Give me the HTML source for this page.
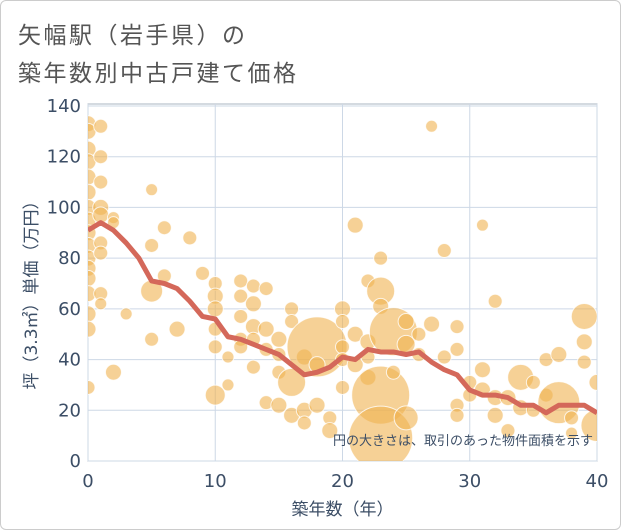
<!DOCTYPE html>
<html><head><meta charset="utf-8"><style>
body{margin:0;background:#fff;}
#wrap{position:relative;width:619px;height:528px;border:1px solid #ccc;border-radius:6px;overflow:hidden;font-family:"Liberation Sans","Noto Sans CJK JP",sans-serif;}
.title{position:absolute;left:17px;font-size:23px;color:#555;letter-spacing:2.5px;}
</style></head><body>
<div id="wrap">
<div class="title" style="top:15px">矢幅駅（岩手県）の</div>
<div class="title" style="top:53px">築年数別中古戸建て価格</div>
<svg id="chart" width="619" height="528" style="position:absolute;left:0;top:0"></svg>
</div>
<script>
const xTicks=[0,10,20,30,40];
const yTicks=[0,20,40,60,80,100,120,140];
const trendYears=[0,1,2,3,4,5,6,7,8,9,10,11,12,13,14,15,16,17,18,19,20,21,22,23,24,25,26,27,28,29,30,31,32,33,34,35,36,37,38,39,40];
const trendPrices=[91,94,91,86,80,71,70,68,63,57,56,49,48,46,44,42,38,34,35,37,41,40,44,43,43,42,43,39,36,34,28,26,26,25,22,22,19,22,22,22,19];
const bubbleYears=[0,0,0,0,0,0,0,0,0,0,0,0,0,0,0,0,0,1,1,1,1,1,1,1,1,1,2,2,2,3,5,5,5,5,6,6,7,8,9,10,10,10,10,10,10,11,11,12,12,12,12,12,13,13,13,13,13,14,14,14,14,15,15,15,15,16,16,16,16,17,17,17,18,18,18,19,19,20,20,20,20,20,21,21,21,22,22,22,22,23,23,23,23,23,24,24,25,25,25,26,26,27,27,28,28,29,29,29,29,30,30,31,31,31,32,32,32,33,33,34,34,35,35,36,36,37,37,38,38,39,39,39,40,40];
const bubblePrices=[133,130,123,118,112,106,100,95,90,85,80,76,72,66,58,52,29,132,120,110,100,97,86,82,66,62,96,94,35,58,107,85,67,48,92,73,52,88,74,70,65,60,52,45,26,41,30,71,65,57,48,45,69,62,53,48,37,68,52,44,23,48,42,35,22,60,55,31,18,41,20,15,45,38,22,17,12,60,55,45,40,29,93,50,38,71,47,41,33,80,67,61,26,9,51,35,55,46,17,50,42,132,54,83,41,53,44,22,18,31,26,93,36,28,63,25,18,12,25,33,21,31,20,40,26,42,23,17,11,57,47,39,31,14];
const bubbleRadius=[8,8,8,8,8,8,8,8,8,8,8,8,8,8,8,8,7,7,7,7,8,8,7,7,7,6,6,6,8,6,6,7,11,7,7,7,8,7,7,7,8,8,7,7,10,6,6,7,7,7,7,7,7,8,8,7,7,7,8,7,7,8,7,7,8,7,7,14,8,8,8,7,30,8,8,7,8,8,7,7,7,7,8,8,8,7,8,7,8,7,14,8,29,32,24,7,8,9,12,7,7,6,8,7,7,7,7,7,7,7,7,6,8,8,7,8,8,7,8,13,8,7,7,7,7,8,21,7,6,13,8,7,8,16];
const NS="http://www.w3.org/2000/svg";
const svg=document.getElementById('chart');
const L=87,R=596,T=105,B=460;
const xs=v=>L+(v-0)/40*(R-L);
const ys=v=>B-(v/140)*(B-T);
const FONT='DejaVu Sans, Liberation Sans, Noto Sans CJK JP, sans-serif';
function mk(tag,attrs){const e=document.createElementNS(NS,tag);for(const k in attrs)e.setAttribute(k,attrs[k]);svg.appendChild(e);return e;}
const bg=mk('rect',{x:L,y:T-2,width:R-L,height:B-T+2,fill:'#fff',stroke:'#aab4c0','stroke-width':1});


yTicks.forEach(t=>{
 const g=mk('line',{x1:L,x2:R,y1:ys(t),y2:ys(t),stroke:'#cdd8e6','stroke-width':1});
 
 
 const tx=mk('text',{x:80,y:ys(t)+6,'text-anchor':'end','font-size':18,fill:'#3c4e66','font-family':FONT});
 tx.textContent=t;
 
 
});
xTicks.forEach(t=>{
 const g=mk('line',{x1:xs(t),x2:xs(t),y1:T-2,y2:B,stroke:'#cdd8e6','stroke-width':1});
 
 
 const tx=mk('text',{x:xs(t),y:486,'text-anchor':'middle','font-size':18,fill:'#3c4e66','font-family':FONT});
 tx.textContent=t;
 
 
});
const clip=mk('clipPath',{id:'pc'});
const cr=document.createElementNS(NS,'rect');cr.setAttribute('x',L);cr.setAttribute('y',T-2);cr.setAttribute('width',R-L);cr.setAttribute('height',B-T+2);clip.appendChild(cr);
const gB=mk('g',{'clip-path':'url(#pc)'});
bubbleYears.forEach((yr,i)=>{
 const c=document.createElementNS(NS,'circle');
 c.setAttribute('cx',xs(yr));c.setAttribute('cy',ys(bubblePrices[i]));c.setAttribute('r',bubbleRadius[i]);
 c.setAttribute('fill','rgba(240,178,80,0.6)');c.setAttribute('stroke','rgba(255,255,255,0.8)');c.setAttribute('stroke-width','1');
 
 
 gB.appendChild(c);
});
const pts=trendYears.map((y,i)=>xs(y)+','+ys(trendPrices[i])).join(' ');
const pl=mk('polyline',{points:pts,fill:'none',stroke:'#d4685a','stroke-width':5,'stroke-linejoin':'round','clip-path':'url(#pc)'});


const nt=mk('text',{x:592,y:444,'text-anchor':'end','font-size':13,fill:'#3c4e66','font-family':'Liberation Sans, Noto Sans CJK JP, sans-serif'});
nt.textContent='円の大きさは、取引のあった物件面積を示す';


const xt=mk('text',{x:(L+R)/2,y:514,'text-anchor':'middle','font-size':17,fill:'#3c4e66','font-family':FONT});
xt.textContent='築年数（年）';


const yt=mk('text',{x:0,y:0,'text-anchor':'middle','font-size':17,fill:'#3c4e66','font-family':FONT,transform:'translate(36,290) rotate(-90)'});
yt.textContent='坪（3.3㎡）単価（万円）';


</script>
</body></html>
